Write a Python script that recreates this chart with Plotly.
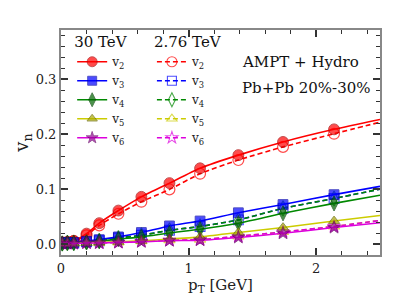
import plotly.graph_objects as go

# ---- data ----
pt = [0.01, 0.05, 0.1, 0.2, 0.3, 0.45, 0.63, 0.85, 1.09, 1.39, 1.74, 2.14]
pt_end = 2.5  # curves continue to the right edge

v2_30 = [0.003, 0.004, 0.006, 0.019, 0.038, 0.061, 0.086, 0.111, 0.138, 0.162, 0.186, 0.209]
v3_30 = [0.002, 0.003, 0.003, 0.005, 0.008, 0.013, 0.021, 0.033, 0.042, 0.057, 0.072, 0.090]
v4_30 = [0.001, 0.002, 0.002, 0.003, 0.005, 0.009, 0.013, 0.020, 0.027, 0.038, 0.056, 0.074]
v5_30 = [0.001, 0.001, 0.001, 0.002, 0.003, 0.004, 0.006, 0.009, 0.013, 0.021, 0.030, 0.042]
v6_30 = [0.001, 0.001, 0.001, 0.002, 0.002, 0.003, 0.004, 0.006, 0.007, 0.012, 0.0195, 0.030]
end_30 = [0.227, 0.105, 0.089, 0.052, 0.0387]

v2_276 = [0.002, 0.003, 0.005, 0.016, 0.034, 0.055, 0.077, 0.0995, 0.128, 0.153, 0.177, 0.201]
v3_276 = [0.001, 0.002, 0.002, 0.004, 0.006, 0.011, 0.016, 0.025, 0.032, 0.044, 0.065, 0.083]
v4_276 = [0.001, 0.002, 0.002, 0.004, 0.006, 0.011, 0.016, 0.025, 0.032, 0.044, 0.065, 0.083]
v5_276 = [0.001, 0.001, 0.001, 0.002, 0.002, 0.003, 0.005, 0.007, 0.008, 0.014, 0.022, 0.032]
v6_276 = [0.001, 0.001, 0.001, 0.002, 0.002, 0.003, 0.005, 0.007, 0.008, 0.014, 0.022, 0.032]
end_276 = [0.222, 0.100, 0.100, 0.043, 0.043]

names = ["v<sub>2</sub>", "v<sub>3</sub>", "v<sub>4</sub>", "v<sub>5</sub>", "v<sub>6</sub>"]

FONT = "DejaVu Serif"

styles = [
    dict(line="#ff0000", fill="#ff0000", edge="#aa0000", sym="circle", size=10),
    dict(line="#0000ff", fill="#0000ff", edge="#0000aa", sym="square", size=9),
    dict(line="#008800", fill="#006600", edge="#004400", sym="diamond-tall", size=10),
    dict(line="#cccc00", fill="#aaaa00", edge="#666600", sym="triangle-up", size=9),
    dict(line="#dd00dd", fill="#990099", edge="#660066", sym="star", size=9),
]

fig = go.Figure()

def add_series(vals, end, st, name, dashed, legend):
    n = len(vals)
    xs = pt + [pt_end]
    ys = vals + [end]
    base = st["size"]
    sizes = [base * (n + 1) / n] * n + [0]
    if dashed:
        marker = dict(symbol=st["sym"] + "-open", size=sizes, color=st["line"],
                      line=dict(width=[1.2] * n + [0], color=st["line"]))
    else:
        marker = dict(symbol=st["sym"], size=sizes, color=st["fill"],
                      line=dict(width=[1] * n + [0], color=st["edge"]))
    fig.add_trace(go.Scatter(
        x=xs, y=ys, name=name, mode="lines+markers", legend=legend,
        line=dict(color=st["line"], width=1.6, shape="spline", smoothing=0.6,
                  dash="5px,3px" if dashed else "solid"),
        marker=marker, cliponaxis=True,
    ))

# 2.76 TeV (dashed, open) drawn first, beneath
for vals, end, st, nm in zip([v2_276, v3_276, v4_276, v5_276, v6_276], end_276, styles, names):
    add_series(vals, end, st, nm, True, "legend2")
for vals, end, st, nm in zip([v2_30, v3_30, v4_30, v5_30, v6_30], end_30, styles, names):
    add_series(vals, end, st, nm, False, "legend")

axis_common = dict(
    showline=True, linecolor="#888888", linewidth=2, mirror="ticks",
    ticks="inside", tickcolor="#333333", ticklen=7, tickwidth=1.5,
    showgrid=False, zeroline=False,
    tickfont=dict(family=FONT, size=13, color="#222"),
)

fig.update_xaxes(range=[0, 2.5], dtick=1, tick0=0,
                 minor=dict(dtick=0.2, ticks="inside", ticklen=4, tickcolor="#333333", tickwidth=1),
                 title=dict(text="p<sub>T</sub> [GeV]", font=dict(family=FONT, size=15, color="#222"), standoff=0),
                 **axis_common)
fig.update_yaxes(range=[-0.02, 0.39], dtick=0.1, tick0=0, tickformat=".1f",
                 minor=dict(dtick=0.02, ticks="inside", ticklen=4, tickcolor="#333333", tickwidth=1),
                 title=dict(text="v<sub>n</sub>", font=dict(family=FONT, size=18, color="#222"), standoff=2),
                 **axis_common)

leg_common = dict(
    bgcolor="rgba(0,0,0,0)", borderwidth=0, yanchor="top", xanchor="left",
    font=dict(family=FONT, size=12, color="#222"), tracegroupgap=0,
    itemwidth=30, traceorder="normal",
)
# the page body adds an 8px offset, compensated in the margins
fig.update_layout(
    width=400, height=300,
    margin=dict(l=53, r=28, t=22, b=53, autoexpand=False),
    paper_bgcolor="white", plot_bgcolor="white",
    showlegend=True,
    legend=dict(x=0.035, y=1.01, title=dict(text="30 TeV", side="top",
                font=dict(family=FONT, size=15, color="#111")), **leg_common),
    legend2=dict(x=0.285, y=1.01, title=dict(text="2.76 TeV", side="top",
                 font=dict(family=FONT, size=15, color="#111")), **leg_common),
    annotations=[
        dict(text="AMPT + Hydro", x=0.56, y=0.858, xref="paper", yref="paper",
             xanchor="left", yanchor="middle", showarrow=False,
             font=dict(family=FONT, size=15, color="#111")),
        dict(text="Pb+Pb 20%-30%", x=0.56, y=0.742, xref="paper", yref="paper",
             xanchor="left", yanchor="middle", showarrow=False,
             font=dict(family=FONT, size=15, color="#111")),
    ],
)

fig.write_html("out.html")
